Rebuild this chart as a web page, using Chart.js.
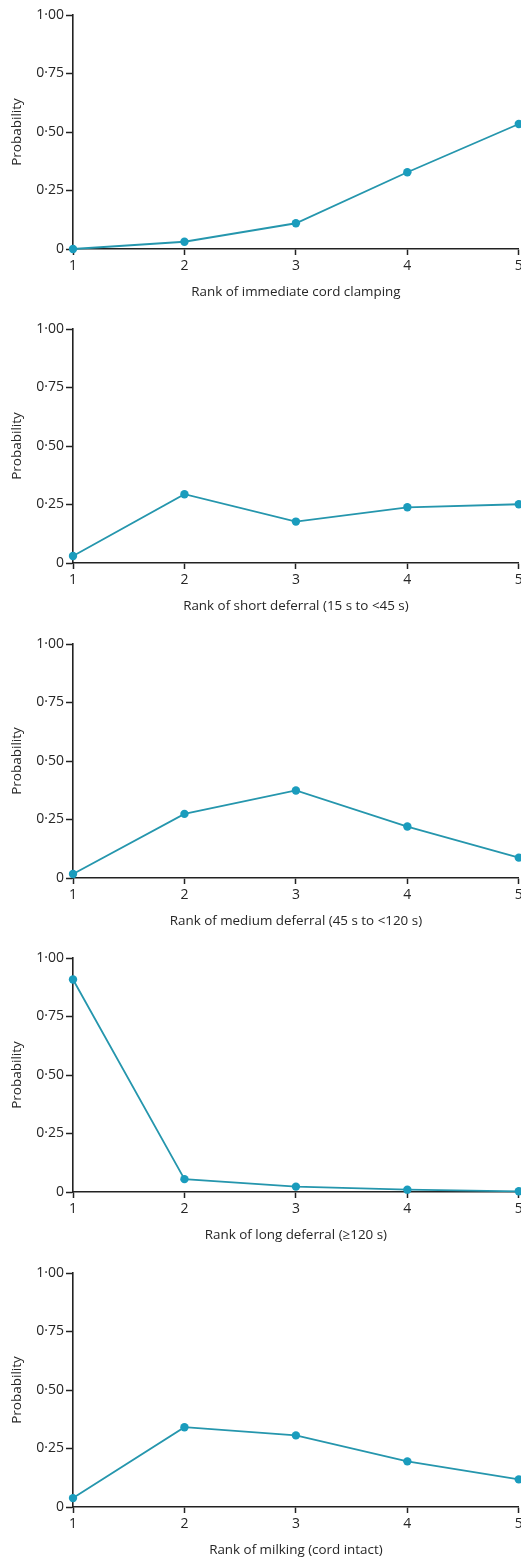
<!DOCTYPE html>
<html>
<head>
<meta charset="utf-8">
<script src="https://cdn.jsdelivr.net/npm/chart.js@4.4.1/dist/chart.umd.min.js"></script>
<style>
  html, body { margin: 0; padding: 0; background: #ffffff; }
  body { width: 521px; height: 1560px; position: relative; overflow: hidden; }
  .panel { position: absolute; left: 0; width: 523px; height: 300px; }
</style>
</head>
<body>
<div class="panel" style="top:0px"><canvas id="c0"></canvas></div>
<div class="panel" style="top:314px"><canvas id="c1"></canvas></div>
<div class="panel" style="top:629px"><canvas id="c2"></canvas></div>
<div class="panel" style="top:943px"><canvas id="c3"></canvas></div>
<div class="panel" style="top:1258px"><canvas id="c4"></canvas></div>
<script>
const ranks = ['1', '2', '3', '4', '5'];
const yTickValues = [0, 0.25, 0.5, 0.75, 1];
const yTickLabels = ['0', '0·25', '0·50', '0·75', '1·00'];
const yAxisTitle = 'Probability';

const immediateClamping = [0.0, 0.031, 0.11, 0.328, 0.534];
const shortDeferral = [0.03, 0.294, 0.177, 0.238, 0.251];
const mediumDeferral = [0.017, 0.274, 0.374, 0.22, 0.087];
const longDeferral = [0.908, 0.055, 0.023, 0.01, 0.003];
const milking = [0.038, 0.341, 0.306, 0.195, 0.118];

const xTitles = [
  'Rank of immediate cord clamping',
  'Rank of short deferral (15 s to <45 s)',
  'Rank of medium deferral (45 s to <120 s)',
  'Rank of long deferral (≥120 s)',
  'Rank of milking (cord intact)'
];
const seriesList = [immediateClamping, shortDeferral, mediumDeferral, longDeferral, milking];

const FONT = '"Open Sans", "Liberation Sans", Arial, sans-serif';
const AXIS = '#222222';
const TEXT = '#262626';
const LINE = '#2596ad';
const POINT = '#1a9cbd';

seriesList.forEach((values, i) => {
  new Chart(document.getElementById('c' + i), {
    type: 'line',
    data: {
      labels: ranks,
      datasets: [{
        data: values,
        borderColor: LINE,
        borderWidth: 1.8,
        pointRadius: 4.2,
        pointHoverRadius: 4.2,
        pointBackgroundColor: POINT,
        pointBorderColor: POINT,
        pointBorderWidth: 0,
        tension: 0,
        clip: false
      }]
    },
    options: {
      responsive: true,
      maintainAspectRatio: false,
      animation: false,
      events: [],
      layout: { padding: { top: 15, right: 1, bottom: 0, left: 0 } },
      plugins: { legend: { display: false }, tooltip: { enabled: false } },
      scales: {
        x: {
          type: 'category',
          offset: false,
          grid: { display: true, drawOnChartArea: false, drawTicks: true, tickLength: 6, tickWidth: 1.5, tickColor: AXIS },
          border: { display: true, color: AXIS, width: 1.6 },
          ticks: { color: TEXT, font: { family: FONT, size: 14 }, padding: 3, maxRotation: 0, autoSkip: false },
          title: { display: true, text: xTitles[i], color: TEXT, font: { family: FONT, size: 13.4 }, padding: { top: 0, bottom: 0 } },
          afterFit: (scale) => { scale.height = 51; scale.paddingLeft = 0; scale.paddingRight = 0; }
        },
        y: {
          type: 'linear',
          min: 0,
          max: 1,
          grid: { display: true, drawOnChartArea: false, drawTicks: true, tickLength: 7, tickWidth: 1.5, tickColor: AXIS },
          border: { display: true, color: AXIS, width: 1.6 },
          afterBuildTicks: (scale) => { scale.ticks = yTickValues.map(v => ({ value: v })); },
          ticks: {
            color: TEXT,
            font: { family: FONT, size: 14 },
            padding: 2,
            callback: (v) => { const k = yTickValues.indexOf(v); return k >= 0 ? yTickLabels[k] : ''; }
          },
          title: { display: true, text: yAxisTitle, color: TEXT, font: { family: FONT, size: 13.5 }, padding: { top: 9, bottom: 0 } },
          afterFit: (scale) => { scale.width = 73; scale.paddingTop = 0; scale.paddingBottom = 0; }
        }
      }
    }
  });
});
</script>
</body>
</html>
